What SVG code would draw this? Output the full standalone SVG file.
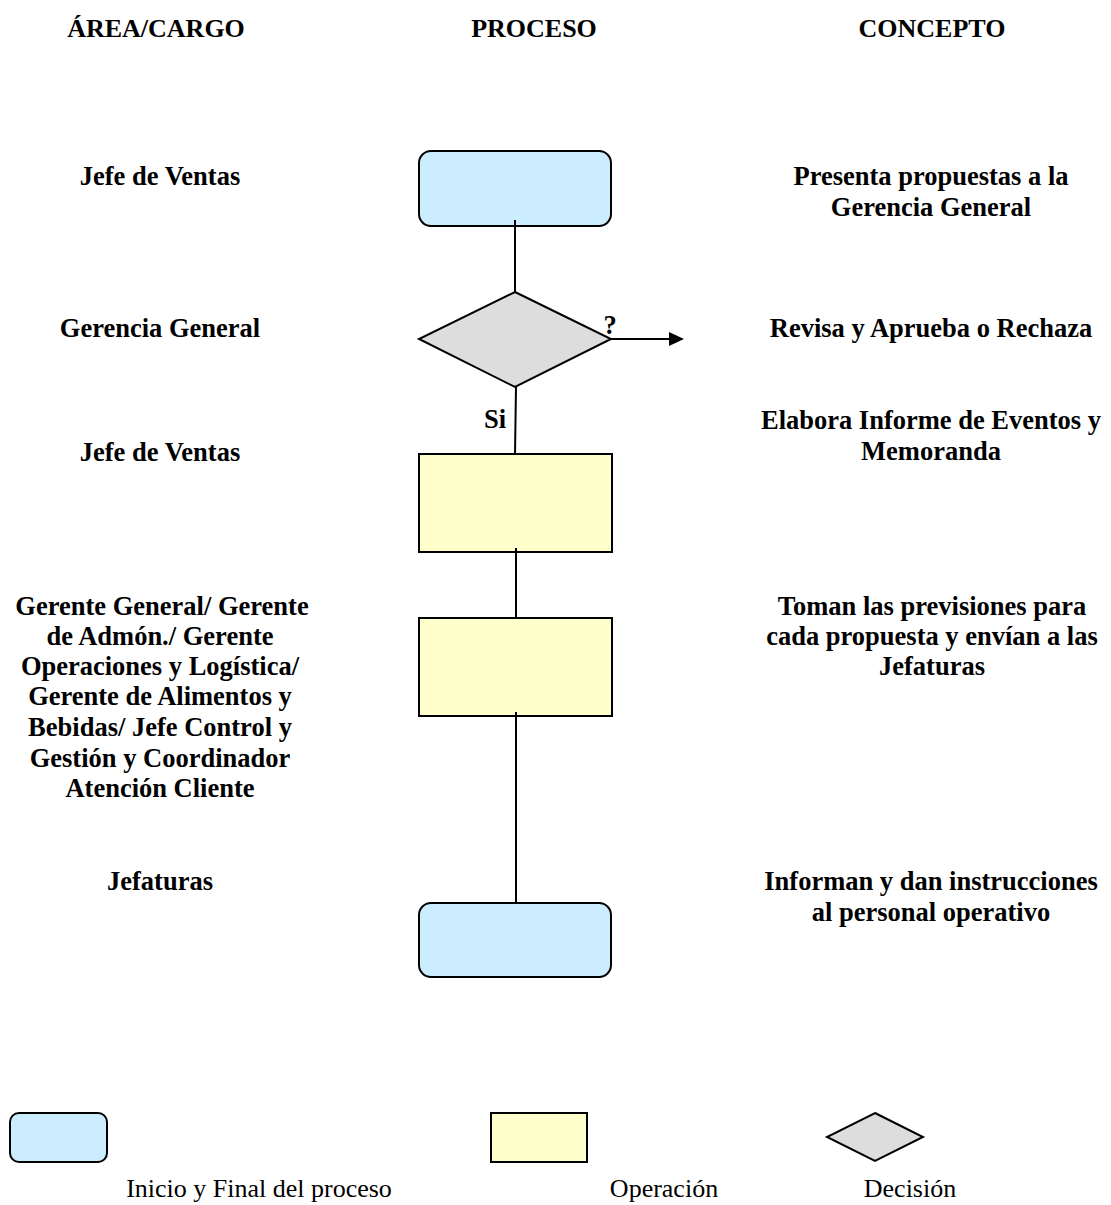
<svg xmlns="http://www.w3.org/2000/svg" width="1111" height="1205" viewBox="0 0 1111 1205">
  <style>
    text { font-family: "Liberation Serif", "Times New Roman", serif; font-size: 26.5px; fill: #000; text-anchor: middle; }
    .b { font-weight: bold; }
    .h { font-size: 26px; }
    .leg { font-size: 26px; }
    .term { fill: #CCECFF; stroke: #000; stroke-width: 2; }
    .op { fill: #FFFFCC; stroke: #000; stroke-width: 2; }
    .dec { fill: #DDDDDD; stroke: #000; stroke-width: 2; }
    .conn { stroke: #000; stroke-width: 2; fill: none; }
  </style>
  <defs>
    <marker id="arrow" viewBox="0 0 14 12" refX="13" refY="6" markerWidth="14" markerHeight="12" markerUnits="userSpaceOnUse" orient="auto">
      <path d="M0,0 L14,6 L0,12 Z" fill="#000"/>
    </marker>
  </defs>
  <rect width="1111" height="1205" fill="#fff"/>

  <!-- column headings -->
  <g id="headers">
    <text class="b h" x="156" y="37">ÁREA/CARGO</text>
    <text class="b h" x="534" y="37">PROCESO</text>
    <text class="b h" x="932" y="37">CONCEPTO</text>
  </g>

  <!-- area / role column -->
  <g id="areas">
    <text class="b" x="160" y="185">Jefe de Ventas</text>
    <text class="b" x="160" y="337">Gerencia General</text>
    <text class="b" x="160" y="461">Jefe de Ventas</text>
    <text class="b" x="162" y="615">Gerente General/ Gerente</text>
    <text class="b" x="160" y="645">de Admón./ Gerente</text>
    <text class="b" x="160" y="675">Operaciones y Logística/</text>
    <text class="b" x="160" y="705">Gerente de Alimentos y</text>
    <text class="b" x="160" y="736">Bebidas/ Jefe Control y</text>
    <text class="b" x="160" y="767">Gestión y Coordinador</text>
    <text class="b" x="160" y="797">Atención Cliente</text>
    <text class="b" x="160" y="890">Jefaturas</text>
  </g>

  <!-- description column -->
  <g id="conceptos">
    <text class="b" x="931" y="185">Presenta propuestas a la</text>
    <text class="b" x="931" y="216">Gerencia General</text>
    <text class="b" x="931" y="337">Revisa y Aprueba o Rechaza</text>
    <text class="b" x="931" y="429">Elabora Informe de Eventos y</text>
    <text class="b" x="931" y="460">Memoranda</text>
    <text class="b" x="932" y="615">Toman las previsiones para</text>
    <text class="b" x="932" y="645">cada propuesta y envían a las</text>
    <text class="b" x="932" y="675">Jefaturas</text>
    <text class="b" x="931" y="890">Informan y dan instrucciones</text>
    <text class="b" x="931" y="921">al personal operativo</text>
  </g>

  <!-- connectors -->
  <g id="connectors">
    <line class="conn" x1="515" y1="220" x2="515" y2="292"/>
    <line class="conn" x1="611" y1="339" x2="670" y2="339"/>
    <path d="M669,332 L684,339 L669,346 Z" fill="#000"/>
    <line class="conn" x1="516" y1="387" x2="515" y2="455"/>
    <line class="conn" x1="516" y1="548" x2="516" y2="620"/>
    <line class="conn" x1="516" y1="712" x2="516" y2="904"/>
    <text class="b" x="610" y="334">?</text>
    <text class="b" x="495" y="428">Si</text>
  </g>

  <!-- process nodes -->
  <g id="inicio">
    <rect class="term" x="419" y="151" width="192" height="75" rx="12"/>
  </g>
  <g id="decision">
    <polygon class="dec" points="515,292 611,339 515,387 419,339"/>
  </g>
  <g id="operacion1">
    <rect class="op" x="419" y="454" width="193" height="98"/>
  </g>
  <g id="operacion2">
    <rect class="op" x="419" y="618" width="193" height="98"/>
  </g>
  <g id="final">
    <rect class="term" x="419" y="903" width="192" height="74" rx="12"/>
  </g>
  <!-- short connector ends drawn over the box edges -->
  <g id="connector-stubs">
    <line class="conn" x1="515" y1="220" x2="515" y2="226"/>
    <line class="conn" x1="516" y1="548" x2="516" y2="552"/>
    <line class="conn" x1="516" y1="712" x2="516" y2="716"/>
  </g>

  <!-- legend -->
  <g id="legend">
    <rect class="term" x="10" y="1113" width="97" height="49" rx="9"/>
    <rect class="op" x="491" y="1113" width="96" height="49"/>
    <polygon class="dec" points="875,1113 923,1137 875,1161 827,1137"/>
    <text class="leg" x="259" y="1197">Inicio y Final del proceso</text>
    <text class="leg" x="664" y="1197">Operación</text>
    <text class="leg" x="910" y="1197">Decisión</text>
  </g>
</svg>
